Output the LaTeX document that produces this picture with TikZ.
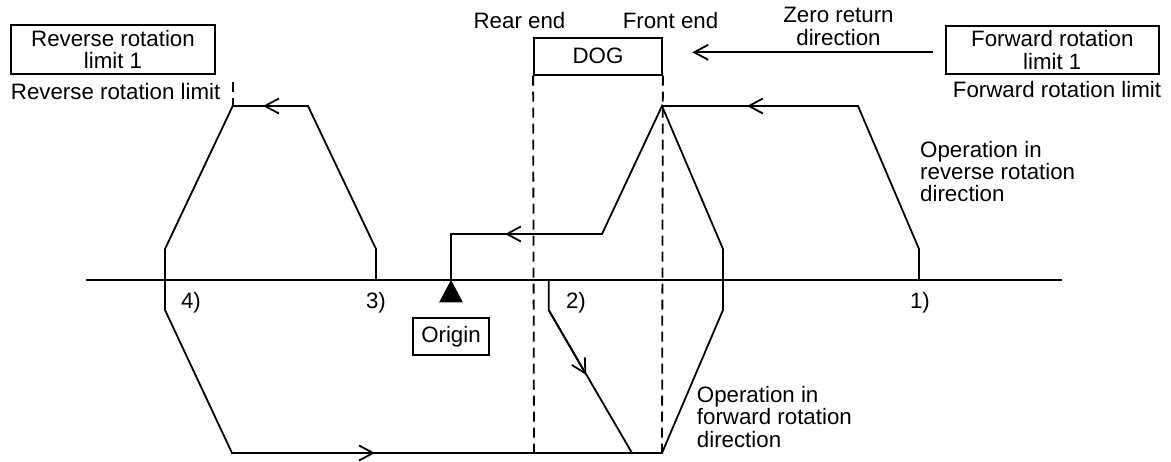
\documentclass[tikz,border=0pt]{standalone}
\usepackage{fontspec}
\setmainfont{Liberation Sans}
\usetikzlibrary{arrows.meta}
\begin{document}
\begin{tikzpicture}[x=1pt,y=-1pt,line width=1.8pt,line join=miter,
  every node/.style={font=\fontsize{22.3}{22.4}\selectfont,inner sep=0pt},
  box/.style={draw,line width=1.8pt,align=center},
  barb/.style={-{Straight Barb[length=14pt,width=15pt,line width=1.8pt]}},
  guide/.style={dash pattern=on 10pt off 6pt}]
\useasboundingbox (0,0) rectangle (1171,462);

% boxes
\node[box,minimum width=204pt,minimum height=49pt] (rlim1) at (113,49.7) {Reverse rotation\\limit 1};
\node[box,minimum width=213pt,minimum height=48.5pt] (flim1) at (1052.3,49.9) {Forward rotation\\limit 1};
\node[box,minimum width=128pt,minimum height=37pt] (dog) at (598,56.2) {DOG};
\node[box,minimum width=76pt,minimum height=37pt] (origin) at (451,336.5) {Origin};

% labels (base anchor of a multi-line node = baseline of its last line)
\node[anchor=base west] (rrl) at (10,99.5) {Reverse rotation limit};
\node[anchor=base west] (frl) at (952,97.5) {Forward rotation limit};
\node[anchor=base] (rear) at (519.5,28.3) {Rear end};
\node[anchor=base] (front) at (670.5,28.3) {Front end};
\node[anchor=base,align=center] (zrd) at (838.5,45.1) {Zero return\\direction};
\node[anchor=base west,align=left] (oprev) at (919.3,202) {Operation in\\reverse rotation\\direction};
\node[anchor=base west,align=left] (opfwd) at (696,447) {Operation in\\forward rotation\\direction};
\node[anchor=base] (n4) at (191,309) {4)};
\node[anchor=base] (n3) at (376,309) {3)};
\node[anchor=base] (n2) at (576,309) {2)};
\node[anchor=base] (n1) at (920,309) {1)};

% coordinates
\coordinate (axL) at (86,280);
\coordinate (axR) at (1062,280);
\coordinate (rlimTop) at (232.7,82);
\coordinate (rlimBot) at (232.7,106);
\coordinate (rearBot) at (534,453);
\coordinate (frontBot) at (662,453);
\coordinate (zrS) at (933,52.3);
\coordinate (zrE) at (692.3,52.3);

% axis
\draw (axL) -- (axR);
% DOG guides
\draw[guide] (dog.south west) -- (rearBot);
\draw[guide] (dog.south east) -- (frontBot);
\draw[guide] (rlimTop) -- (rlimBot);
% zero return direction
\draw[barb] (zrS) -- (zrE);

% main path (from 3) / 4))
\draw (376,280) -- (376,249) -- (308,106) -- (rlimBot) -- (165,249) -- (165,310)
  -- (232,453) -- (frontBot) -- (723,310) -- (723,249) -- (662,106)
  -- (602,234) -- (451,234) -- (451,280);
% path from 1)
\draw (919,280) -- (919,249) -- (858,106) -- (662,106);
% path from 2)
\draw (548.7,280) -- (548.7,310) -- (632,453);

% direction arrows
\draw[barb] (280,106) -- (263,106);
\draw[barb] (522,234) -- (505,234);
\draw[barb] (764,106) -- (747,106);
\draw[barb] (358,453) -- (375,453);
\draw[barb] (548.7,310) -- (586.3,375);

% origin mark
\fill (451,280) -- (439,302.5) -- (463,302.5) -- cycle;
\end{tikzpicture}
\end{document}
